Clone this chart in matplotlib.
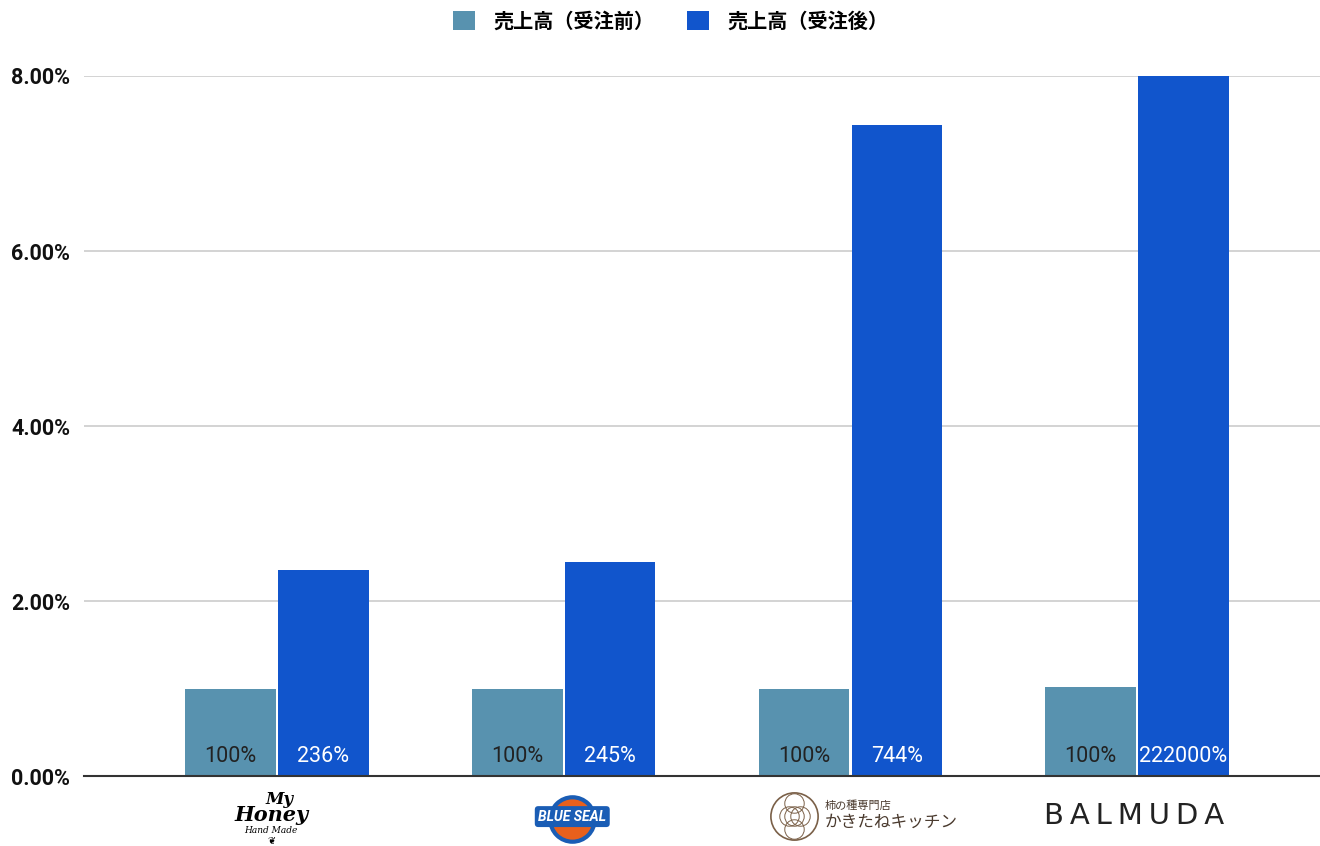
import numpy as np
from matplotlib import pyplot as plt
from matplotlib.patches import Patch
from matplotlib import transforms

plt.rcParams["font.family"] = ["Roboto", "Noto Sans CJK JP", "DejaVu Sans"]

brands = ["My Honey", "BLUE SEAL", "かきたねキッチン", "BALMUDA"]
before = [1.00, 1.00, 1.00, 1.02]
after = [2.36, 2.45, 7.44, 2220.0]
before_labels = ["100%", "100%", "100%", "100%"]
after_labels = ["236%", "245%", "744%", "222000%"]
series_names = ["売上高（受注前）", "売上高（受注後）"]
yticks = [0, 2, 4, 6, 8]

COLOR_BEFORE = "#5892AF"
COLOR_AFTER = "#1155CC"
Y_MAX = 8

fig = plt.figure(figsize=(13.2, 8.46), dpi=100)
ax = fig.add_axes([84 / 1320, 70 / 846, 1 - 84 / 1320, 700 / 846])

x = np.arange(len(brands))
w = 0.316
gap = 0.004
ax.bar(x - w / 2 - gap, before, width=w, color=COLOR_BEFORE, zorder=2)
ax.bar(x + w / 2 + gap, np.minimum(after, Y_MAX), width=w, color=COLOR_AFTER, zorder=2)

for i in range(len(brands)):
    ax.text(x[i] - w / 2 - gap, 0.22, before_labels[i], ha="center", va="center",
            fontsize=15.5, color="#222222", zorder=3)
    ax.text(x[i] + w / 2 + gap, 0.22, after_labels[i], ha="center", va="center",
            fontsize=15.5, color="white", zorder=3)

ax.set_xlim(-0.673, 3.638)
ax.set_ylim(0, Y_MAX)
ax.set_yticks(yticks)
ax.set_yticklabels([f"{v:.2f}%" for v in yticks], fontsize=15.5, fontweight="bold", color="#111111")
ax.set_xticks([])
ax.grid(axis="y", color="#cccccc", linewidth=1.2, zorder=0)
for s in ["top", "right", "left"]:
    ax.spines[s].set_visible(False)
ax.spines["bottom"].set_color("#333333")
ax.spines["bottom"].set_linewidth(1.5)
ax.spines["bottom"].set_zorder(4)
ax.tick_params(axis="y", length=0, pad=10)

# brand "logos" drawn as text under each group
tr = transforms.blended_transform_factory(ax.transData, ax.transAxes)

# My Honey
ax.text(x[0] + 0.01, -0.033, "My", transform=tr, ha="center", va="center",
        fontsize=12, family="DejaVu Serif", style="italic", fontweight="bold")
ax.text(x[0] - 0.02, -0.056, "Honey", transform=tr, ha="center", va="center",
        fontsize=15, family="DejaVu Serif", style="italic", fontweight="bold")
ax.text(x[0] - 0.02, -0.078, "Hand Made", transform=tr, ha="center", va="center",
        fontsize=6.5, family="DejaVu Serif", style="italic")
ax.text(x[0] - 0.02, -0.092, "❦", transform=tr, ha="center", va="center",
        fontsize=7, family="DejaVu Sans")

# BLUE SEAL
ax.plot([x[1] + 0.03], [-0.062], transform=tr, marker="o", markersize=32,
        markerfacecolor="#E8601C", markeredgecolor="#1A5DB5", markeredgewidth=3,
        clip_on=False, zorder=5)
ax.text(x[1] + 0.03, -0.058, "BLUE SEAL", transform=tr, ha="center", va="center",
        fontsize=10, fontweight="bold", color="white", style="italic", zorder=6,
        bbox=dict(boxstyle="round,pad=0.25", facecolor="#1A5DB5", edgecolor="none"))

# かきたねキッチン
for dx, dy in [(0, 0), (-0.02, 0), (0.02, 0), (0, 0.018), (0, -0.018)]:
    ax.plot([x[2] - 0.195 + dx], [-0.057 + dy], transform=tr, marker="o", markersize=14,
            markerfacecolor="none", markeredgecolor="#7A6048", markeredgewidth=0.7,
            clip_on=False)
ax.plot([x[2] - 0.195], [-0.057], transform=tr, marker="o", markersize=34,
        markerfacecolor="none", markeredgecolor="#7A6048", markeredgewidth=1.2,
        clip_on=False)
ax.text(x[2] - 0.09, -0.042, "柿の種専門店", transform=tr, ha="left", va="center",
        fontsize=8, color="#4A3A2E", family="Noto Sans CJK JP")
ax.text(x[2] - 0.09, -0.066, "かきたねキッチン", transform=tr, ha="left", va="center",
        fontsize=12, color="#4A3A2E", family="Noto Sans CJK JP")

# BALMUDA
ax.text(x[3] - 0.01, -0.057, "\u2009".join("BALMUDA"), transform=tr,
        ha="center", va="center", fontsize=21, color="#222222", family="DejaVu Sans")

handles = [Patch(facecolor=COLOR_BEFORE, edgecolor="none"),
           Patch(facecolor=COLOR_AFTER, edgecolor="none")]
fig.legend(handles, series_names, loc="center", bbox_to_anchor=(0.508, 0.975), ncol=2,
           frameon=False, handlelength=1.1, handleheight=1.1, handletextpad=0.9,
           columnspacing=1.6, prop={"family": ["Noto Sans CJK JP"], "weight": "bold", "size": 14.5})

fig.savefig("out.png", dpi=100)
